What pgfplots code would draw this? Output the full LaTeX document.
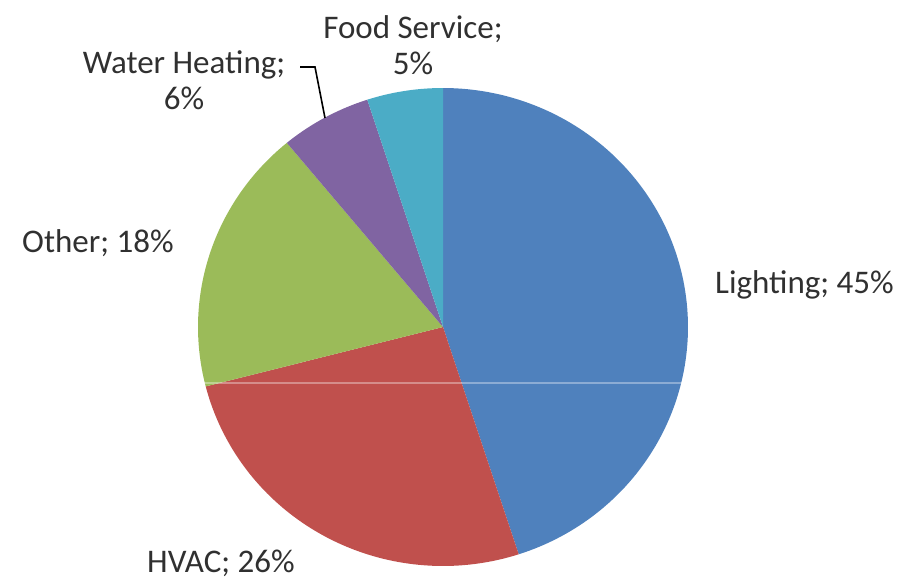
\documentclass[border=0pt]{standalone}
\usepackage{pgfplots}
\pgfplotsset{compat=1.18}
\usepackage{fontspec}
\setmainfont{Carlito}
\definecolor{cLight}{HTML}{4F81BD}
\definecolor{cHVAC}{HTML}{C0504D}
\definecolor{cOther}{HTML}{9BBB59}
\definecolor{cWater}{HTML}{8064A2}
\definecolor{cFood}{HTML}{4BACC6}
\definecolor{txt}{HTML}{303030}
\tikzset{lbl/.style={font=\fontsize{33}{36}\selectfont, text=txt, inner sep=0pt}}
% shares (percent)
\def\vLight{45}
\def\vHVAC{26}
\def\vOther{18}
\def\vWater{6}
\def\vFood{5}
\pgfmathsetmacro{\aA}{90}
\pgfmathsetmacro{\aB}{\aA-3.6*\vLight}
\pgfmathsetmacro{\aC}{\aB-3.6*\vHVAC}
\pgfmathsetmacro{\aD}{\aC-3.6*\vOther}
\pgfmathsetmacro{\aE}{\aD-3.6*\vWater}
\pgfmathsetmacro{\aF}{\aE-3.6*\vFood}
\begin{document}
\begin{tikzpicture}
\useasboundingbox (0,0) rectangle (911pt,582pt);
\begin{axis}[
  at={(0,0)}, anchor=south west,
  width=911pt, height=582pt, scale only axis,
  xmin=0, xmax=911, ymin=0, ymax=582,
  hide axis, clip=false,
]
\addplot[fill=cLight, draw=none, domain=\aB:\aA, samples=120, variable=\t] ({443+245*cos(\t)},{255+239*sin(\t)}) -- (axis cs:443,255) -- cycle;
\addplot[fill=cHVAC, draw=none, domain=\aC:\aB, samples=80, variable=\t] ({443+245*cos(\t)},{255+239*sin(\t)}) -- (axis cs:443,255) -- cycle;
\addplot[fill=cOther, draw=none, domain=\aD:\aC, samples=60, variable=\t] ({443+245*cos(\t)},{255+239*sin(\t)}) -- (axis cs:443,255) -- cycle;
\addplot[fill=cWater, draw=none, domain=\aE:\aD, samples=30, variable=\t] ({443+245*cos(\t)},{255+239*sin(\t)}) -- (axis cs:443,255) -- cycle;
\addplot[fill=cFood, draw=none, domain=\aF:\aE, samples=30, variable=\t] ({443+245*cos(\t)},{255+239*sin(\t)}) -- (axis cs:443,255) -- cycle;
% scan artefact line
\draw[white, opacity=0.35, line width=1.5pt] (axis cs:0,199) -- (axis cs:911,199);
% leader line
\draw[black, line width=1.6pt] (axis cs:300,515) -- (axis cs:315,515) -- (axis cs:325,464);
% labels
\node[lbl, anchor=west] at (axis cs:715,297) {Lighting; 45\%};
\node[lbl, anchor=west] at (axis cs:147,19) {HVAC; 26\%};
\node[lbl, anchor=west] at (axis cs:22,339) {Other; 18\%};
\node[lbl, align=center] at (axis cs:184,502) {Water Heating;\\6\%};
\node[lbl, align=center] at (axis cs:413,537) {Food Service;\\5\%};
\end{axis}
\end{tikzpicture}
\end{document}
